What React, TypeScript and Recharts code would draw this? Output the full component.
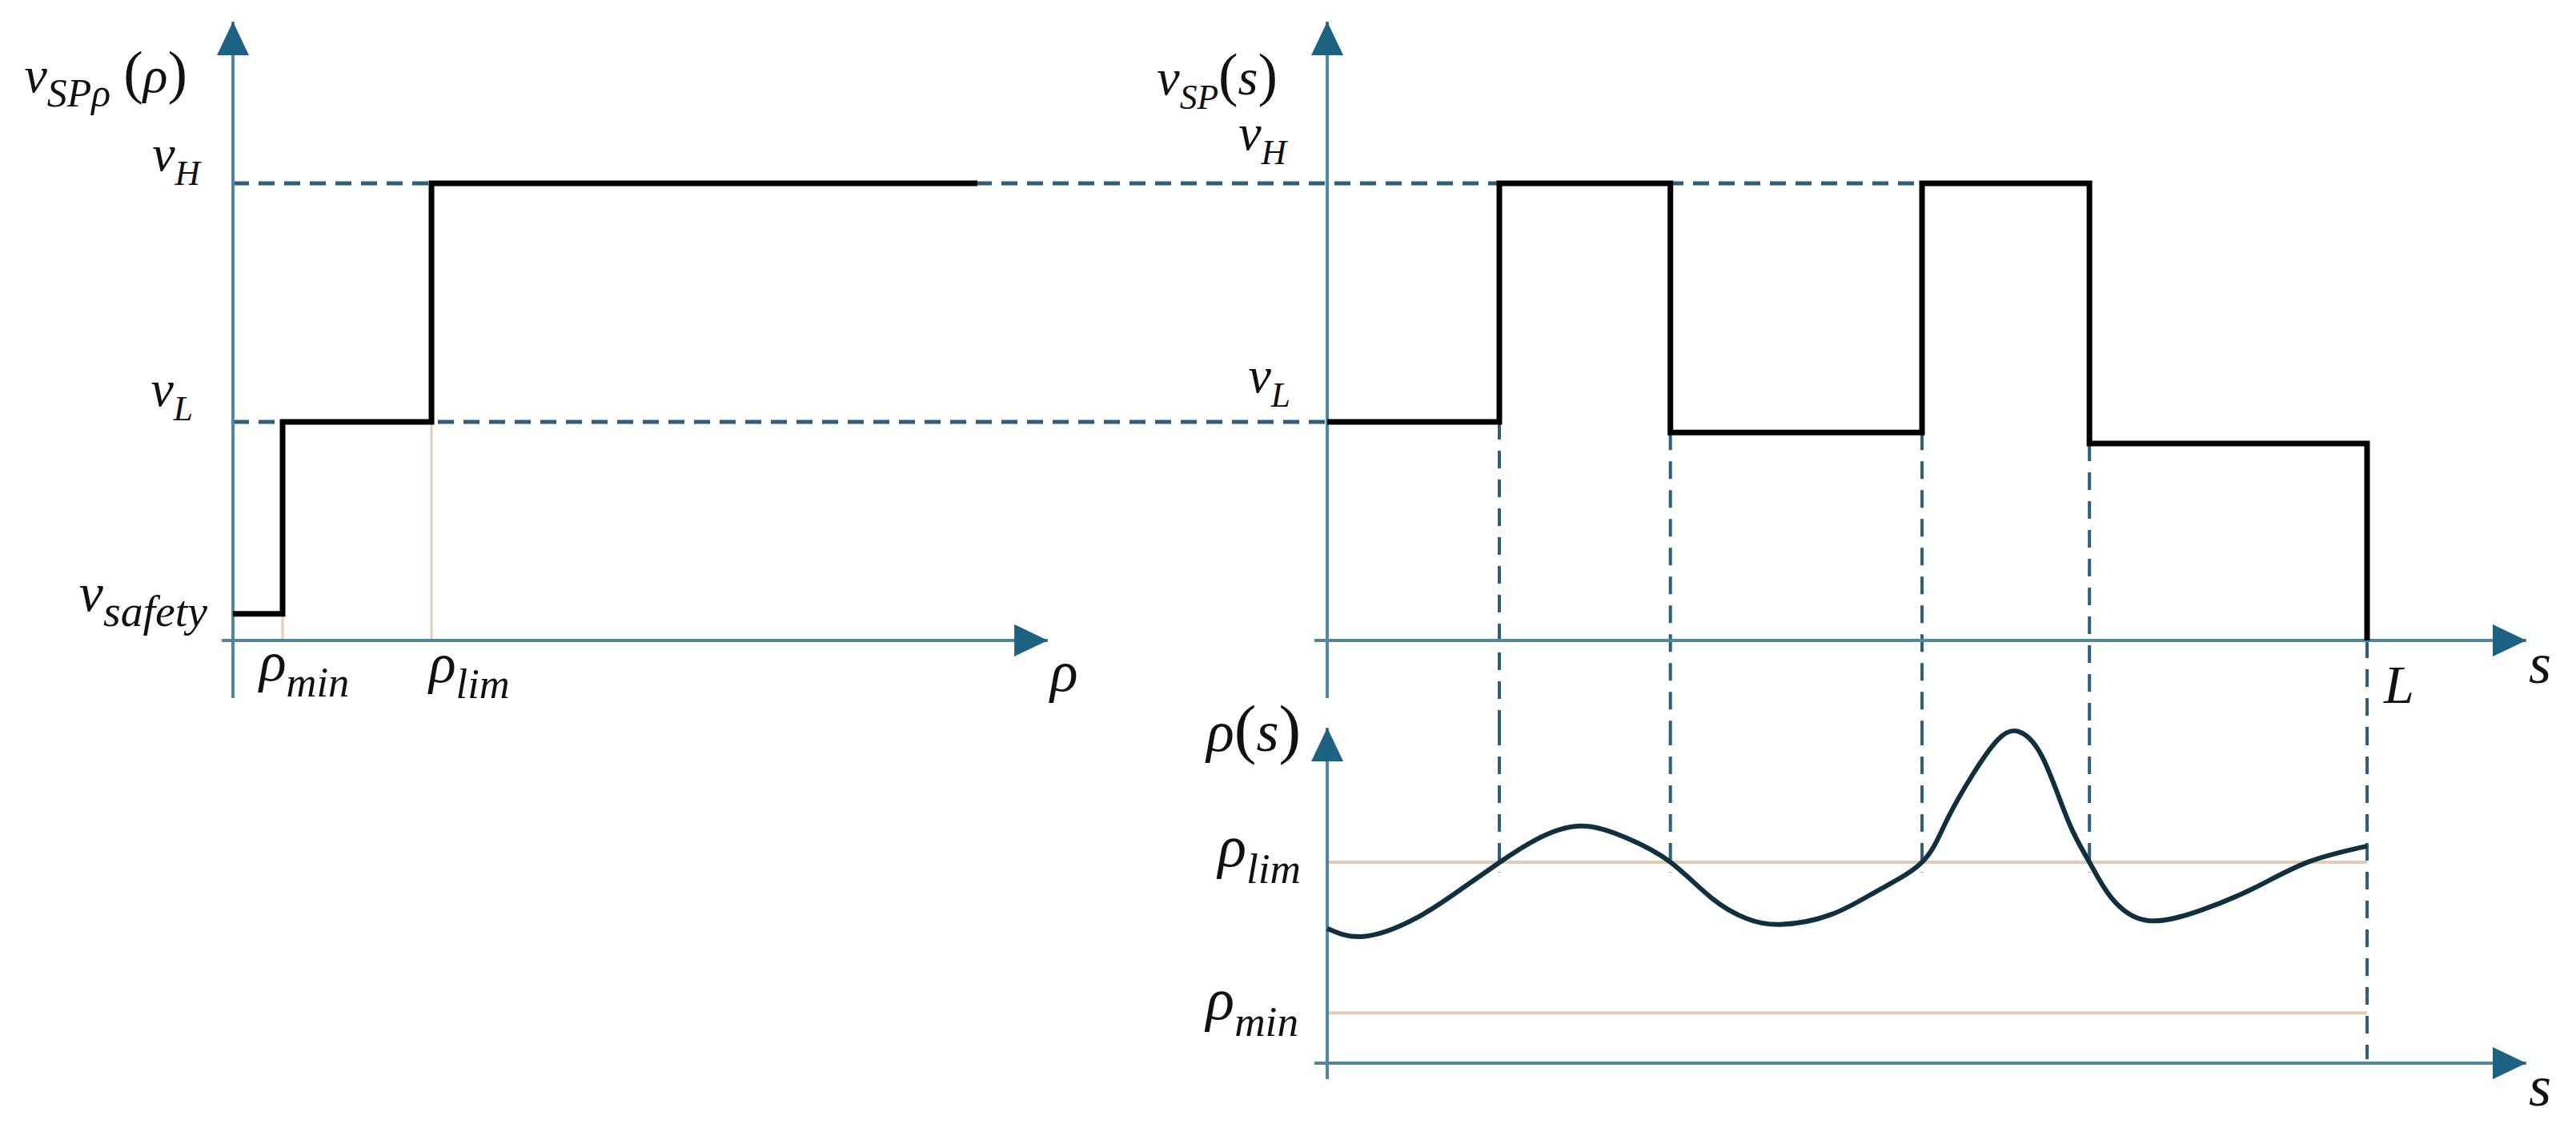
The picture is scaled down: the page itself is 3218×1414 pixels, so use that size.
import { ComposedChart, Line, XAxis, YAxis, ReferenceLine, ReferenceDot } from "recharts";

// density thresholds and set-point levels
const RHO_MIN = 0.25;
const RHO_LIM = 1;
const V_SAFETY = 0.058;
const V_L = 0.478;
const V_H = 1;
const L = 100;

// v_SPρ(ρ): set-point as a step function of the density
const RHO_BREAKS = [0, RHO_MIN, RHO_LIM, 3.75];
const V_OF_RHO = [V_SAFETY, V_L, V_H, V_H];

// v_SP(s): set-point along the path
const S_BREAKS = [0, 16.55, 33.0, 57.2, 73.3, L];
const V_OF_S = [V_L, V_H, 0.455, V_H, 0.431, 0];

// ρ(s): density along the path
const S_CURVE = [0, 3.5, 8.5, 13.0, 16.6, 20.0, 24.3, 28.8, 33.0, 37.0, 40.3, 43.6, 48.5, 53.0, 57.2, 59.5, 62.0, 64.5, 66.5, 68.8, 71.3, 73.3, 75.3, 78.8, 84.0, 89.1, 94.3, 100];
const RHO_CURVE = [0.67, 0.63, 0.72, 0.87, 1.0, 1.11, 1.18, 1.12, 1.0, 0.82, 0.72, 0.69, 0.74, 0.86, 1.0, 1.2, 1.43, 1.61, 1.65, 1.52, 1.2, 1.0, 0.83, 0.71, 0.76, 0.87, 1.0, 1.08];

// layout (axis domains chosen so both panels line up)
const W = 3218;
const RHO_AX: [number, number] = [0, 11.552];
const S_AX: [number, number] = [-105.24, 115.32];
const V_AX: [number, number] = [-0.191, 1.354];
const RS_AX: [number, number] = [-0.08, 1.669];
const V_TAIL = -0.126;
const RHO_TIP = 4.105;
const RHO_TAIL = -0.056;
const S_TAIL = -1.23;

const AXIS = "#4f86a3";
const ARROW = "#1d6283";
const GUIDE = "#2d5f7b";
const TAN = "#e3cbb6";
const CURVE = "#10303f";
const INK = "#111";
const FONT = "Liberation Serif";

type Piece = [string, "n" | "s" | "p"];

function MathText({ x, y, pieces, anchor, size, sub }: { x: number; y: number; pieces: Piece[]; anchor: "start" | "end"; size: number; sub: number }) {
  const shift = size * 0.28;
  let level = 0;
  return (
    <text x={x} y={y} textAnchor={anchor} fill={INK} fontFamily={FONT} fontSize={size}>
      {pieces.map(([t, k], i) => {
        const target = k === "s" ? shift : 0;
        const dy = target - level;
        level = target;
        const fs = k === "s" ? size * sub : k === "p" ? size * 1.15 : size;
        return (
          <tspan key={i} dy={dy} fontFamily={FONT} fontSize={fs} fontStyle={k === "p" ? "normal" : "italic"}>
            {t}
          </tspan>
        );
      })}
    </text>
  );
}

function mathLabel(key: string, xAxisId: string, x: number, y: number, pieces: Piece[], dx: number, dy: number, anchor: "start" | "end", size = 62, sub = 0.68) {
  return (
    <ReferenceDot
      key={key}
      xAxisId={xAxisId}
      x={x}
      y={y}
      r={0}
      ifOverflow="visible"
      zIndex={600}
      shape={(p: any) => <MathText x={p.cx + dx} y={p.cy + dy} pieces={pieces} anchor={anchor} size={size} sub={sub} />}
    />
  );
}

function arrow(key: string, xAxisId: string, x: number, y: number, dir: "up" | "right") {
  return (
    <ReferenceDot
      key={key}
      xAxisId={xAxisId}
      x={x}
      y={y}
      r={0}
      ifOverflow="visible"
      zIndex={600}
      shape={(p: any) => {
        const { cx, cy } = p;
        const pts =
          dir === "up"
            ? `${cx},${cy} ${cx - 20},${cy + 42} ${cx + 20},${cy + 42}`
            : `${cx},${cy} ${cx - 42},${cy - 20} ${cx - 42},${cy + 20}`;
        return <polygon points={pts} fill={ARROW} />;
      }}
    />
  );
}

function seg(key: string, xAxisId: string, a: [number, number], b: [number, number], stroke: string, width: number, dash?: string, z = 100) {
  return (
    <ReferenceLine
      key={key}
      xAxisId={xAxisId}
      segment={[{ x: a[0], y: a[1] }, { x: b[0], y: b[1] }]}
      stroke={stroke}
      strokeWidth={width}
      strokeDasharray={dash}
      ifOverflow="visible"
      zIndex={z}
    />
  );
}

const leftSteps = RHO_BREAKS.map((rho, i) => ({ rho, v: V_OF_RHO[i] }));
const rightSteps = S_BREAKS.map((s, i) => ({ s, v: V_OF_S[i] }));
const curve = S_CURVE.map((s, i) => ({ s, rho: RHO_CURVE[i] }));

export default function App() {
  return (
    <div style={{ position: "absolute", left: 0, top: 0, width: W, height: 1414, background: "#fff" }}>
      <div style={{ position: "absolute", left: 0, top: 0 }}>
        <ComposedChart width={W} height={909} margin={{ top: 27, right: 62, bottom: 0, left: 291 }}>
          <XAxis xAxisId="rho" type="number" dataKey="rho" domain={RHO_AX} allowDataOverflow hide />
          <XAxis xAxisId="s" type="number" dataKey="s" domain={S_AX} allowDataOverflow hide />
          <YAxis type="number" domain={V_AX} allowDataOverflow hide />

          {/* dashed level guides */}
          {seg("gH", "s", [S_AX[0], V_H], [S_BREAKS[4], V_H], GUIDE, 5, "20 12")}
          {seg("gL", "s", [S_AX[0], V_L], [0, V_L], GUIDE, 5, "20 12")}
          {seg("tMin", "rho", [RHO_MIN, 0], [RHO_MIN, V_SAFETY], TAN, 3)}
          {seg("tLim", "rho", [RHO_LIM, 0], [RHO_LIM, V_L], TAN, 3)}
          {S_BREAKS.slice(1, 5).map((s, i) =>
            seg("vd" + i, "s", [s, Math.min(V_OF_S[i], V_OF_S[i + 1])], [s, V_AX[0]], GUIDE, 4, "22 14")
          )}
          {seg("vdL", "s", [L, 0], [L, V_AX[0]], GUIDE, 4, "22 14")}

          {/* axes */}
          {seg("ay1", "rho", [0, V_TAIL], [0, V_AX[1]], AXIS, 4, undefined, 150)}
          {seg("ax1", "rho", [RHO_TAIL, 0], [RHO_TIP, 0], AXIS, 4, undefined, 150)}
          {seg("ay2", "s", [0, V_TAIL], [0, V_AX[1]], AXIS, 4, undefined, 150)}
          {seg("ax2", "s", [S_TAIL, 0], [S_AX[1], 0], AXIS, 4, undefined, 150)}
          {arrow("a1", "rho", 0, V_AX[1], "up")}
          {arrow("a2", "rho", RHO_TIP, 0, "right")}
          {arrow("a3", "s", 0, V_AX[1], "up")}
          {arrow("a4", "s", S_AX[1], 0, "right")}

          <Line xAxisId="rho" data={leftSteps} dataKey="v" type="stepAfter" stroke="#000" strokeWidth={7} dot={false} activeDot={false} isAnimationActive={false} zIndex={400} />
          <Line xAxisId="s" data={rightSteps} dataKey="v" type="stepAfter" stroke="#000" strokeWidth={7} dot={false} activeDot={false} isAnimationActive={false} zIndex={400} />

          {mathLabel("lt", "rho", 0, V_H, [["v", "n"], ["SPρ", "s"], [" ", "n"], ["(", "p"], ["ρ", "n"], [")", "p"]], -57, -114, "end", 64, 0.78)}
          {mathLabel("lH", "rho", 0, V_H, [["v", "n"], ["H", "s"]], -41, -16, "end", 64)}
          {mathLabel("lL", "rho", 0, V_L, [["v", "n"], ["L", "s"]], -50, -20, "end", 64)}
          {mathLabel("lS", "rho", 0, V_SAFETY, [["v", "n"], ["safety", "s"]], -32, -4, "end", 68, 0.82)}
          {mathLabel("lRmin", "rho", RHO_MIN, 0, [["ρ", "n"], ["min", "s"]], -29, 50, "start", 70, 0.75)}
          {mathLabel("lRlim", "rho", RHO_LIM, 0, [["ρ", "n"], ["lim", "s"]], -3, 52, "start", 70, 0.75)}
          {mathLabel("lR", "rho", RHO_TIP, 0, [["ρ", "n"]], 3, 63, "start", 72)}
          {mathLabel("rt", "s", 0, V_H, [["v", "n"], ["SP", "s"], ["(", "p"], ["s", "n"], [")", "p"]], -62, -111, "end", 64)}
          {mathLabel("rH", "s", 0, V_H, [["v", "n"], ["H", "s"]], -51, -42, "end", 64)}
          {mathLabel("rL", "s", 0, V_L, [["v", "n"], ["L", "s"]], -46, -37, "end", 64)}
          {mathLabel("rs", "s", S_AX[1], 0, [["s", "n"]], 3, 53, "start", 72)}
          {mathLabel("rLen", "s", L, 0, [["L", "n"]], 21, 78, "start", 68)}
        </ComposedChart>
      </div>

      <div style={{ position: "absolute", left: 0, top: 860 }}>
        <ComposedChart width={W} height={554} margin={{ top: 49, right: 62, bottom: 66, left: 291 }}>
          <XAxis xAxisId="s" type="number" dataKey="s" domain={S_AX} allowDataOverflow hide />
          <YAxis type="number" domain={RS_AX} allowDataOverflow hide />

          {seg("tl", "s", [0, RHO_LIM], [L, RHO_LIM], TAN, 4)}
          {seg("tm", "s", [0, RHO_MIN], [L, RHO_MIN], TAN, 4)}
          {S_BREAKS.slice(1, 5).map((s, i) => seg("bd" + i, "s", [s, RS_AX[1]], [s, 0.95], GUIDE, 4, "22 14"))}
          {seg("bdL", "s", [L, RS_AX[1]], [L, 0.02], GUIDE, 4, "22 14")}

          {seg("by", "s", [0, RS_AX[0]], [0, RS_AX[1]], AXIS, 4, undefined, 150)}
          {seg("bx", "s", [S_TAIL, 0], [S_AX[1], 0], AXIS, 4, undefined, 150)}
          {arrow("b1", "s", 0, RS_AX[1], "up")}
          {arrow("b2", "s", S_AX[1], 0, "right")}

          <Line xAxisId="s" data={curve} dataKey="rho" type="natural" stroke={CURVE} strokeWidth={6} dot={false} activeDot={false} isAnimationActive={false} zIndex={400} />

          {mathLabel("bt", "s", 0, RS_AX[1], [["ρ", "n"], ["(", "p"], ["s", "n"], [")", "p"]], -33, 29, "end", 72)}
          {mathLabel("bl", "s", 0, RHO_LIM, [["ρ", "n"], ["lim", "s"]], -33, 5, "end", 74, 0.72)}
          {mathLabel("bm", "s", 0, RHO_MIN, [["ρ", "n"], ["min", "s"]], -36, 8, "end", 74, 0.72)}
          {mathLabel("bs", "s", S_AX[1], 0, [["s", "n"]], 3, 53, "start", 72)}
        </ComposedChart>
      </div>
    </div>
  );
}
